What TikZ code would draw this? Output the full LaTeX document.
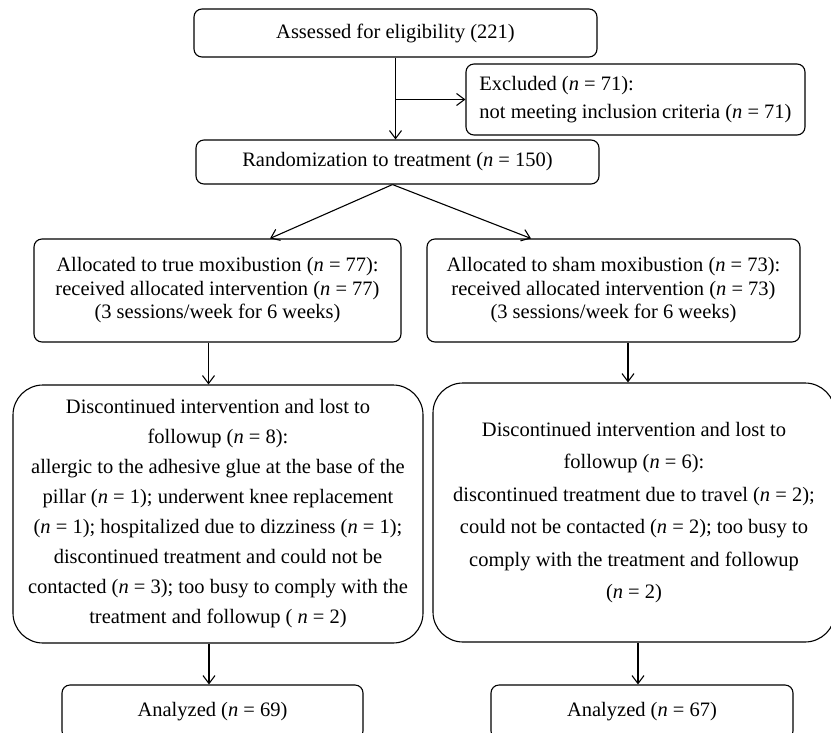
\documentclass[tikz,border=0pt]{standalone}
\usepackage{fontspec}
\setmainfont{Liberation Serif}
\usetikzlibrary{arrows.meta}
\begin{document}
\begin{tikzpicture}[x=1pt,y=-1pt,
        caja/.style={draw,rounded corners=8pt,line width=1.1pt,align=center,inner sep=0pt,
            font=\fontsize{20.5}{23.5}\selectfont},
        cajagrande/.style={caja,rounded corners=30pt,font=\fontsize{20.5}{30}\selectfont},
        flecha/.style={-{Straight Barb[length=8pt,width=12pt]},line width=1.1pt}]
            \clip (0,0) rectangle (831,732);
            \fill[white] (0,0) rectangle (831,732);
            % Inicio
            \node[caja,minimum width=403pt,minimum height=48pt] (eleg) at (395.5,33)
                {Assessed for eligibility (221)};
            \node[caja,minimum width=339pt,minimum height=71pt,align=left,
                font=\fontsize{20.5}{28}\selectfont] (excl) at (635.5,99.5)
                {Excluded (\textit{n} = 71):\\not meeting inclusion criteria (\textit{n} = 71)};
            \node[caja,minimum width=403pt,minimum height=44pt] (rand) at (397.5,162)
                {Randomization to treatment (\textit{n} = 150)};
            \draw[flecha] (eleg.south) -- (eleg.south |- rand.north);
            \draw[flecha] (eleg.south |- excl.west) -- (excl.west);
            % Brazo izquierdo
            \begin{scope}
                \node[caja,minimum width=367pt,minimum height=103pt] (asig1) at (217.5,290.5)
                    {Allocated to true moxibustion (\textit{n} = 77):\\received allocated intervention (\textit{n} = 77)\\(3 sessions/week for 6 weeks)};
                \node[cajagrande,minimum width=410pt,minimum height=258pt] (disc1) at (218,514)
                    {Discontinued intervention and lost to\\followup (\textit{n} = 8):\\allergic to the adhesive glue at the base of the\\pillar (\textit{n} = 1); underwent knee replacement\\(\textit{n} = 1); hospitalized due to dizziness (\textit{n} = 1);\\discontinued treatment and could not be\\contacted (\textit{n} = 3); too busy to comply with the\\treatment and followup ( \textit{n} = 2)};
                \node[caja,minimum width=301pt,minimum height=54pt] (anal1) at (212.5,712)
                    {Analyzed (\textit{n} = 69)};
                \draw[flecha] ([xshift=-5pt]rand.south) -- ([xshift=52.5pt]asig1.north);
                \draw[flecha] ([xshift=-9pt]asig1.south) -- ([xshift=-9pt]asig1.south |- disc1.north);
                \draw[flecha] ([xshift=-9pt]disc1.south) -- ([xshift=-9pt]disc1.south |- anal1.north);
            \end{scope}
            % Brazo derecho
            \begin{scope}
                \node[caja,minimum width=373pt,minimum height=103pt] (asig2) at (613.5,290.5)
                    {Allocated to sham moxibustion (\textit{n} = 73):\\received allocated intervention (\textit{n} = 73)\\(3 sessions/week for 6 weeks)};
                \node[cajagrande,minimum width=402pt,minimum height=259pt,
                    font=\fontsize{20.5}{32.5}\selectfont] (disc2) at (634,512.5)
                    {Discontinued intervention and lost to\\followup (\textit{n} = 6):\\discontinued treatment due to travel (\textit{n} = 2);\\could not be contacted (\textit{n} = 2); too busy to\\comply with the treatment and followup\\(\textit{n} = 2)};
                \node[caja,minimum width=302pt,minimum height=54pt] (anal2) at (642,712)
                    {Analyzed (\textit{n} = 67)};
                \draw[flecha] ([xshift=-5pt]rand.south) -- ([xshift=-82.5pt]asig2.north);
                \draw[flecha] ([xshift=14.5pt]asig2.south) -- ([xshift=14.5pt]asig2.south |- disc2.north);
                \draw[flecha] ([xshift=4pt]disc2.south) -- ([xshift=4pt]disc2.south |- anal2.north);
            \end{scope}
        \end{tikzpicture}
\end{document}
